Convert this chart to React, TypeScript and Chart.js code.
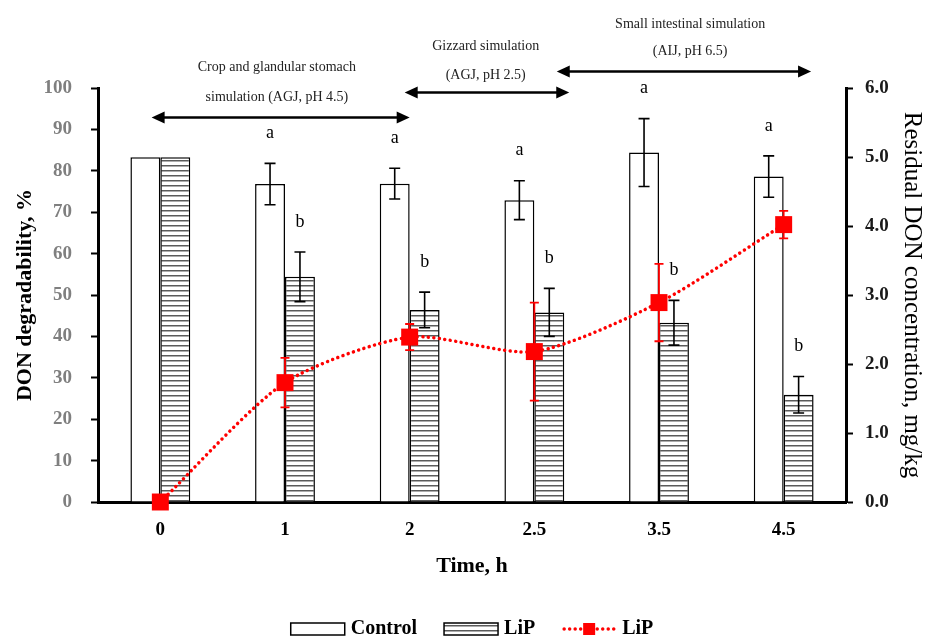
import React, { useEffect, useRef } from 'react';
import { Chart, registerables } from 'chart.js';

Chart.register(...registerables);

// ---------- data ----------
const categories = ['0', '1', '2', '2.5', '3.5', '4.5'];
const controlValues = [83.3, 76.8, 76.9, 72.9, 84.4, 78.6];
const controlErrors = [0, 5.0, 3.7, 4.7, 8.2, 5.0];
const lipValues = [83.3, 54.4, 46.4, 45.8, 43.3, 25.9];
const lipErrors = [0, 6.0, 4.3, 5.8, 5.4, 4.4];
const concValues = [0, 1.73, 2.39, 2.18, 2.89, 4.02];
const concErrors = [0, 0.36, 0.19, 0.71, 0.56, 0.2];
const controlLetters = ['', 'a', 'a', 'a', 'a', 'a'];
const lipLetters = ['', 'b', 'b', 'b', 'b', 'b'];

const leftAxisMax = 100;
const leftAxisStep = 10;
const rightAxisMax = 6;
const rightAxisStep = 1;

// phase annotations (x in category index units, y in left-axis units)
const phaseLines = [
  ['Crop and glandular stomach', 'simulation (AGJ, pH 4.5)'],
  ['Gizzard simulation', '(AGJ, pH 2.5)'],
  ['Small intestinal simulation', '(AIJ, pH 6.5)'],
];
const phaseStart = [-0.07, 1.96, 3.18];
const phaseEnd = [2.0, 3.28, 5.22];
const phaseArrowY = [92.9, 98.9, 104.0];
const phaseTextX = [0.935, 2.61, 4.25];
const phaseTextY1 = [104.9, 110.0, 115.3];
const phaseTextY2 = [97.7, 103.0, 108.8];

const SERIF = "'Liberation Serif', 'Times New Roman', serif";

const errorBarPlugin = {
  id: 'errorBars',
  afterDatasetsDraw(chart: any) {
    const { ctx } = chart;
    const errs = [controlErrors, lipErrors, concErrors];
    chart.data.datasets.forEach((ds: any, i: number) => {
      const meta = chart.getDatasetMeta(i);
      const scale = chart.scales[meta.yAxisID];
      const isLine = ds.type === 'line';
      ctx.save();
      ctx.strokeStyle = isLine ? '#ff0000' : '#000000';
      ctx.lineWidth = isLine ? 1.8 : 1.6;
      const cap = isLine ? 4.5 : 5.5;
      meta.data.forEach((el: any, j: number) => {
        const e = errs[i][j];
        if (!e) return;
        const v = ds.data[j];
        const yt = scale.getPixelForValue(v + e);
        const yb = scale.getPixelForValue(v - e);
        ctx.beginPath();
        ctx.moveTo(el.x, yt);
        ctx.lineTo(el.x, yb);
        ctx.moveTo(el.x - cap, yt);
        ctx.lineTo(el.x + cap, yt);
        ctx.moveTo(el.x - cap, yb);
        ctx.lineTo(el.x + cap, yb);
        ctx.stroke();
      });
      ctx.restore();
    });
    // significance letters
    const letterSets = [controlLetters, lipLetters];
    const errSets = [controlErrors, lipErrors];
    ctx.save();
    ctx.fillStyle = '#000';
    ctx.font = `18px ${SERIF}`;
    ctx.textAlign = 'center';
    ctx.textBaseline = 'middle';
    [0, 1].forEach((i) => {
      const meta = chart.getDatasetMeta(i);
      const scale = chart.scales[meta.yAxisID];
      meta.data.forEach((el: any, j: number) => {
        const t = letterSets[i][j];
        if (!t) return;
        const v = chart.data.datasets[i].data[j] + errSets[i][j];
        ctx.fillText(t, el.x, scale.getPixelForValue(v) - 30);
      });
    });
    ctx.restore();
  },
};

const phasePlugin = {
  id: 'phases',
  afterDraw(chart: any) {
    const { ctx } = chart;
    const x = chart.scales.x;
    const y = chart.scales.y;
    ctx.save();
    ctx.strokeStyle = '#000';
    ctx.fillStyle = '#000';
    ctx.lineWidth = 2.5;
    phaseLines.forEach((lines, i) => {
      const x1 = x.getPixelForValue(phaseStart[i]);
      const x2 = x.getPixelForValue(phaseEnd[i]);
      const ay = y.getPixelForValue(phaseArrowY[i]);
      const hl = 13;
      const hh = 6;
      ctx.fillStyle = '#000';
      ctx.beginPath();
      ctx.moveTo(x1 + hl - 2, ay);
      ctx.lineTo(x2 - hl + 2, ay);
      ctx.stroke();
      ctx.beginPath();
      ctx.moveTo(x1, ay);
      ctx.lineTo(x1 + hl, ay - hh);
      ctx.lineTo(x1 + hl, ay + hh);
      ctx.closePath();
      ctx.fill();
      ctx.beginPath();
      ctx.moveTo(x2, ay);
      ctx.lineTo(x2 - hl, ay - hh);
      ctx.lineTo(x2 - hl, ay + hh);
      ctx.closePath();
      ctx.fill();
      ctx.font = `14px ${SERIF}`;
      ctx.textAlign = 'center';
      ctx.textBaseline = 'middle';
      ctx.fillStyle = '#222';
      const tx = x.getPixelForValue(phaseTextX[i]);
      ctx.fillText(lines[0], tx, y.getPixelForValue(phaseTextY1[i]));
      ctx.fillText(lines[1], tx, y.getPixelForValue(phaseTextY2[i]));
    });
    ctx.restore();
  },
};

const legendPlugin = {
  id: 'customLegend',
  afterDraw(chart: any) {
    const { ctx, chartArea } = chart;
    const ds = chart.data.datasets;
    const cy = 629;
    const boxW = 54;
    const boxH = 12;
    const gap = 6;
    const itemGap = 27;
    ctx.save();
    ctx.font = `bold 20px ${SERIF}`;
    const widths = ds.map((d: any) => boxW + gap + ctx.measureText(d.label).width);
    const total = widths.reduce((a: number, b: number) => a + b, 0) + itemGap * (ds.length - 1);
    let cx = (chartArea.left + chartArea.right) / 2 - total / 2;
    ds.forEach((d: any, i: number) => {
      if (d.type === 'line') {
        ctx.save();
        ctx.strokeStyle = d.borderColor;
        ctx.lineWidth = d.borderWidth;
        ctx.lineCap = 'round';
        ctx.setLineDash(d.borderDash);
        ctx.beginPath();
        ctx.moveTo(cx + 2, cy);
        ctx.lineTo(cx + boxW - 2, cy);
        ctx.stroke();
        ctx.restore();
        ctx.fillStyle = d.pointBackgroundColor;
        ctx.fillRect(cx + boxW / 2 - 6, cy - 6, 12, 12);
      } else {
        ctx.fillStyle = d.backgroundColor;
        ctx.fillRect(cx, cy - boxH / 2, boxW, boxH);
        ctx.strokeStyle = '#000';
        ctx.lineWidth = 1.5;
        ctx.strokeRect(cx, cy - boxH / 2, boxW, boxH);
      }
      ctx.fillStyle = '#000';
      ctx.textAlign = 'left';
      ctx.textBaseline = 'middle';
      ctx.fillText(d.label, cx + boxW + gap, cy);
      cx += widths[i] + itemGap;
    });
    ctx.restore();
  },
};

function makeHatch(): CanvasPattern | string {
  const c = document.createElement('canvas');
  c.width = 8;
  c.height = 5;
  const g = c.getContext('2d');
  if (!g) return '#fff';
  g.fillStyle = '#ffffff';
  g.fillRect(0, 0, 8, 5);
  g.fillStyle = '#5a5a5a';
  g.fillRect(0, 0, 8, 1.5);
  return g.createPattern(c, 'repeat') || '#fff';
}

export default function App() {
  const ref = useRef<HTMLCanvasElement | null>(null);

  useEffect(() => {
    if (!ref.current) return;
    const hatch = makeHatch();
    const chart = new Chart(ref.current, {
      type: 'bar',
      data: {
        labels: categories,
        datasets: [
          {
            type: 'bar',
            label: 'Control',
            data: controlValues,
            backgroundColor: '#ffffff',
            borderColor: '#000000',
            borderWidth: 1.5,
            yAxisID: 'y',
            order: 2,
            categoryPercentage: 0.48,
            barPercentage: 1.0,
          },
          {
            type: 'bar',
            label: 'LiP',
            data: lipValues,
            backgroundColor: hatch as any,
            borderColor: '#000000',
            borderWidth: 1.5,
            yAxisID: 'y',
            order: 2,
            categoryPercentage: 0.48,
            barPercentage: 1.0,
          },
          {
            type: 'line',
            label: 'LiP',
            data: concValues,
            yAxisID: 'y1',
            order: 0,
            clip: false,
            borderColor: '#ff0000',
            borderWidth: 3.5,
            borderDash: [0.01, 5.5],
            borderCapStyle: 'round',
            tension: 0.25,
            pointStyle: 'rect',
            pointRadius: 12,
            pointBorderWidth: 0,
            pointBackgroundColor: '#ff0000',
            pointBorderColor: '#ff0000',
            fill: false,
          } as any,
        ],
      },
      options: {
        animation: false,
        responsive: false,
        maintainAspectRatio: false,
        layout: { padding: { top: 88, left: 0, right: 0, bottom: 0 } },
        plugins: {
          legend: { display: false },
          tooltip: { enabled: false },
        },
        scales: {
          x: {
            type: 'category',
            offset: true,
            grid: { display: false, drawTicks: false },
            border: { display: true, color: '#000', width: 3 },
            ticks: {
              color: '#000',
              font: { family: SERIF, size: 19, weight: 'bold' },
              padding: 17,
            },
            title: {
              display: true,
              text: 'Time, h',
              color: '#000',
              font: { family: SERIF, size: 22, weight: 'bold' },
              padding: { top: 0, bottom: 57 },
            },
            afterFit: (s: any) => {
              s.height = 135;
            },
          },
          y: {
            position: 'left',
            min: 0,
            max: leftAxisMax,
            ticks: {
              stepSize: leftAxisStep,
              color: '#7f7f7f',
              font: { family: SERIF, size: 19, weight: 'bold' },
              padding: 19,
            },
            grid: {
              display: true,
              drawOnChartArea: false,
              drawTicks: true,
              tickLength: 7,
              tickWidth: 2,
              tickColor: '#000',
            },
            border: { display: true, color: '#000', width: 3 },
            title: {
              display: true,
              text: 'DON degradability, %',
              color: '#000',
              font: { family: SERIF, size: 22, weight: 'bold' },
              padding: { top: 12, bottom: 0 },
            },
            afterFit: (s: any) => {
              s.width = 98;
            },
          },
          y1: {
            position: 'right',
            min: 0,
            max: rightAxisMax,
            ticks: {
              stepSize: rightAxisStep,
              color: '#1a1a1a',
              font: { family: SERIF, size: 19, weight: 'bold' },
              padding: 12,
              callback: (v: any) => Number(v).toFixed(1),
            },
            grid: {
              display: true,
              drawOnChartArea: false,
              drawTicks: true,
              tickLength: 7,
              tickWidth: 2,
              tickColor: '#000',
            },
            border: { display: true, color: '#000', width: 3 },
            title: {
              display: true,
              text: 'Residual DON concentration, mg/kg',
              color: '#000',
              font: { family: SERIF, size: 25, weight: 'normal', lineHeight: 1.1 },
              padding: { top: 0, bottom: 0 },
            },
            afterFit: (s: any) => {
              s.width = 79;
            },
          },
        },
      } as any,
      plugins: [errorBarPlugin, phasePlugin, legendPlugin],
    });
    return () => chart.destroy();
  }, []);

  return (
    <div style={{ position: 'fixed', left: 0, top: 0, width: 925, height: 637, background: '#fff' }}>
      <canvas ref={ref} width={925} height={637} style={{ display: 'block', width: 925, height: 637 }} />
    </div>
  );
}
